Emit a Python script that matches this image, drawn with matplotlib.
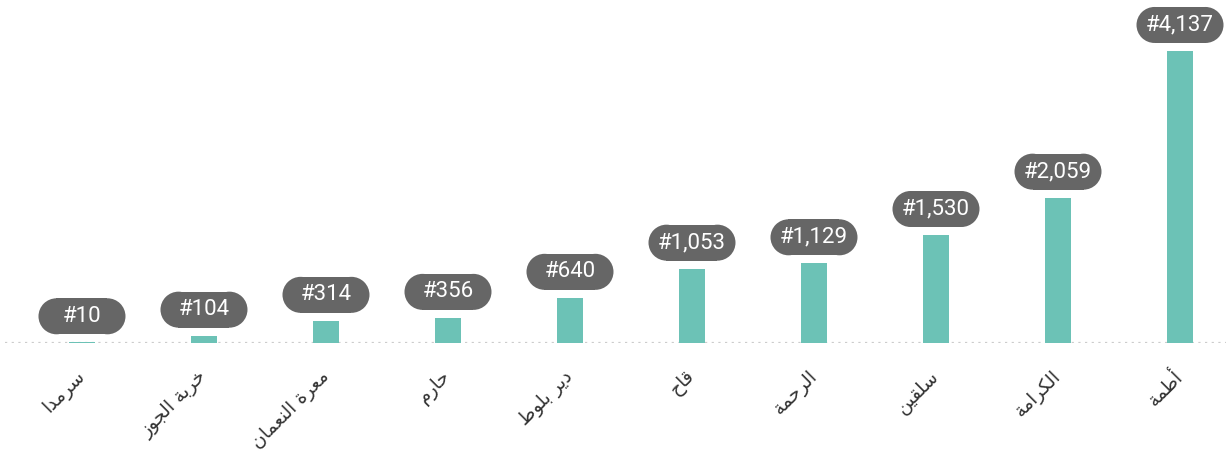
import matplotlib
matplotlib.use("Agg")
import matplotlib.pyplot as plt
from matplotlib.patches import Rectangle, Circle
from matplotlib.transforms import IdentityTransform

towns = ["سرمدا", "خربة الجوز", "معرة النعمان", "حارم", "دير بلوط",
         "قاح", "الرحمة", "سلقين", "الكرامة", "أطمة"]
counts = [10, 104, 314, 356, 640, 1053, 1129, 1530, 2059, 4137]

bar_color = "#6cc2b6"
box_color = "#666666"

# minimal arabic shaping: (isolated, final, initial, medial)
FORMS = {
    "ا": ("\ufe8d", "\ufe8e", None, None),
    "أ": ("\ufe83", "\ufe84", None, None),
    "ب": ("\ufe8f", "\ufe90", "\ufe91", "\ufe92"),
    "ة": ("\ufe93", "\ufe94", None, None),
    "ج": ("\ufe9d", "\ufe9e", "\ufe9f", "\ufea0"),
    "ح": ("\ufea1", "\ufea2", "\ufea3", "\ufea4"),
    "خ": ("\ufea5", "\ufea6", "\ufea7", "\ufea8"),
    "د": ("\ufea9", "\ufeaa", None, None),
    "ر": ("\ufead", "\ufeae", None, None),
    "ز": ("\ufeaf", "\ufeb0", None, None),
    "س": ("\ufeb1", "\ufeb2", "\ufeb3", "\ufeb4"),
    "ط": ("\ufec1", "\ufec2", "\ufec3", "\ufec4"),
    "ع": ("\ufec9", "\ufeca", "\ufecb", "\ufecc"),
    "ق": ("\ufed5", "\ufed6", "\ufed7", "\ufed8"),
    "ك": ("\ufed9", "\ufeda", "\ufedb", "\ufedc"),
    "ل": ("\ufedd", "\ufede", "\ufedf", "\ufee0"),
    "م": ("\ufee1", "\ufee2", "\ufee3", "\ufee4"),
    "ن": ("\ufee5", "\ufee6", "\ufee7", "\ufee8"),
    "و": ("\ufeed", "\ufeee", None, None),
    "ي": ("\ufef1", "\ufef2", "\ufef3", "\ufef4"),
}


def shape(word):
    out = []
    for k, c in enumerate(word):
        if c not in FORMS:
            out.append(c)
            continue
        prev = word[k - 1] if k > 0 else None
        nxt = word[k + 1] if k + 1 < len(word) else None
        join_prev = prev in FORMS and FORMS[prev][2] is not None
        join_next = FORMS[c][2] is not None and nxt in FORMS
        iso, fin, ini, med = FORMS[c]
        if join_prev and join_next:
            out.append(med)
        elif join_prev:
            out.append(fin)
        elif join_next:
            out.append(ini)
        else:
            out.append(iso)
    return "".join(reversed(out))


fig = plt.figure(figsize=(12.31, 4.58), dpi=100)
ax = fig.add_axes([0, 115 / 458, 1, 343 / 458])

x = list(range(len(counts)))
ax.bar(x, counts, width=0.22, color=bar_color, zorder=2)
ax.axhline(0, xmin=5 / 1231, xmax=1226 / 1231, color="#cccccc",
           linewidth=1.6, linestyle=(0, (1, 2)), zorder=1)

ax.set_xlim(-0.672, 9.418)
ax.set_ylim(0, 4859)
for s in ax.spines.values():
    s.set_visible(False)
ax.set_yticks([])
ax.set_xticks(x)
ax.set_xticklabels([shape(t) for t in towns], rotation=45, ha="right",
                   va="center", rotation_mode="anchor", fontsize=13.5,
                   color="#333333", family=["DejaVu Sans"])
ax.tick_params(axis="x", length=0, pad=22)

# pill-shaped value labels above each bar
W, H = 87, 36
r = H / 2
for i, v in zip(x, counts):
    px, py = ax.transData.transform((i, v))
    cy = py + 8 + r
    parts = [Rectangle((px - W / 2 + r, cy - r), W - 2 * r, H),
             Circle((px - W / 2 + r, cy), r),
             Circle((px + W / 2 - r, cy), r)]
    for p in parts:
        p.set_transform(IdentityTransform())
        p.set_facecolor(box_color)
        p.set_edgecolor("none")
        p.set_zorder(3)
        p.set_clip_on(False)
        ax.add_artist(p)
    ax.annotate("#{:,}".format(v), xy=(i, v), xytext=(0, 26),
                textcoords="offset pixels", ha="center", va="center",
                color="white", fontsize=16,
                family=["Roboto", "DejaVu Sans"],
                zorder=4, annotation_clip=False)

fig.savefig("out.png", dpi=100)
